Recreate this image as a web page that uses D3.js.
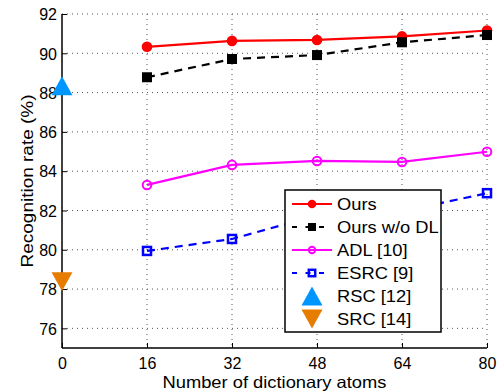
<!DOCTYPE html>
<html><head><meta charset="utf-8">
<script src="https://cdn.jsdelivr.net/npm/d3@7"></script>
<style>body{margin:0;background:#fff}svg{display:block}text{font-family:"Liberation Sans",Arial,sans-serif;fill:#000}</style>
</head><body><svg id="c" width="503" height="392"></svg>
<script>
const atoms = [16, 32, 48, 64, 80];
const ours = [90.33, 90.63, 90.68, 90.86, 91.16];
const oursNoDL = [88.78, 89.71, 89.91, 90.56, 90.93];
const adl = [83.3, 84.32, 84.52, 84.47, 84.99];
const esrc = [79.94, 80.55, 81.75, 81.95, 82.88];
const rsc = 88.35;
const src = 78.38;
const xTicks = [0, 16, 32, 48, 64, 80];
const yTicks = [76, 78, 80, 82, 84, 86, 88, 90, 92];
const legendLabels = ["Ours", "Ours w/o DL", "ADL [10]", "ESRC [9]", "RSC [12]", "SRC [14]"];

const svg = d3.select("#c");
const L = 62, R = 487, T = 14, B = 348;
const x = d3.scaleLinear().domain([0, 80]).range([L, R]);
const y = d3.scaleLinear().domain([75, 92]).range([B, T]);

function stretch(t, k) {
  const n = t.node();
  const w = n.getComputedTextLength();
  t.attr("textLength", w * k).attr("lengthAdjust", "spacingAndGlyphs");
}

// grid
const g = svg.append("g");
xTicks.filter(d => d > 0).forEach(d => g.append("line").attr("x1", x(d)).attr("x2", x(d)).attr("y1", T).attr("y2", B)
  .attr("stroke", "#555").attr("stroke-width", 1).attr("stroke-dasharray", "1,4"));
yTicks.forEach(d => g.append("line").attr("x1", L).attr("x2", R).attr("y1", y(d)).attr("y2", y(d))
  .attr("stroke", "#555").attr("stroke-width", 1).attr("stroke-dasharray", "1,4"));

// axes
const ax = svg.append("g").attr("transform", `translate(0,${B})`)
  .call(d3.axisBottom(x).tickValues(xTicks).tickSize(-5).tickPadding(10).tickFormat(d3.format("d")));
const ay = svg.append("g").attr("transform", `translate(${L},0)`)
  .call(d3.axisLeft(y).tickValues(yTicks).tickSize(-5).tickPadding(5).tickFormat(d3.format("d")));
[ax, ay].forEach(a => {
  a.select(".domain").attr("stroke", "#000").attr("stroke-width", 1.5);
  a.selectAll(".tick line").attr("stroke", "#000");
  a.selectAll(".tick text").attr("font-size", 16).attr("font-family", "Liberation Sans, Arial, sans-serif");
});
ax.select(".domain").attr("d", `M${L},0H${R}`);
ay.select(".domain").attr("d", `M0,${B}V${T}`);
ay.selectAll(".tick text").attr("dy", "0.36em");

const xl = svg.append("text").attr("x", x(40)).attr("y", 388).attr("text-anchor", "middle").attr("font-size", 16.5).text("Number of dictionary atoms");
stretch(xl, 1.11);
const yl = svg.append("text").attr("transform", `translate(33,181) rotate(-90)`).attr("text-anchor", "middle").attr("font-size", 16.5).text("Recognition rate (%)");
stretch(yl, 1.15);

const line = d3.line().x(d => x(d[0])).y(d => y(d[1]));
const series = [
  {v: ours, c: "#ff0000", dash: null, m: "circleF"},
  {v: oursNoDL, c: "#000000", dash: "8,6", m: "squareF"},
  {v: adl, c: "#ff00ff", dash: null, m: "circleO"},
  {v: esrc, c: "#0000ff", dash: "8,6", m: "squareO"}
];
function marker(sel, type, c, cx, cy, s) {
  if (type === "circleF") sel.append("circle").attr("cx", cx).attr("cy", cy).attr("r", 5.3*s).attr("fill", c);
  else if (type === "circleO") sel.append("circle").attr("cx", cx).attr("cy", cy).attr("r", 4.3*s).attr("fill", "none").attr("stroke", c).attr("stroke-width", 2);
  else if (type === "squareF") sel.append("rect").attr("x", cx - 5*s).attr("y", cy - 5*s).attr("width", 10*s).attr("height", 10*s).attr("fill", c);
  else if (type === "squareO") sel.append("rect").attr("x", cx - 4*s).attr("y", cy - 4*s).attr("width", 8*s).attr("height", 8*s).attr("fill", "none").attr("stroke", c).attr("stroke-width", 2.5);
}
series.forEach(s => {
  const pts = atoms.map((a, i) => [a, s.v[i]]);
  const p = svg.append("path").attr("d", line(pts)).attr("fill", "none").attr("stroke", s.c).attr("stroke-width", 2.2);
  if (s.dash) p.attr("stroke-dasharray", s.dash);
  pts.forEach(d => marker(svg, s.m, s.c, x(d[0]), y(d[1]), 1));
});
function tri(sel, cx, cy, up, c, w) {
  const h = w * 0.9;
  const pts = up ? [[cx - w/2, cy + h/2], [cx + w/2, cy + h/2], [cx, cy - h/2]] : [[cx - w/2, cy - h/2], [cx + w/2, cy - h/2], [cx, cy + h/2]];
  sel.append("path").attr("d", "M" + pts.join("L") + "Z").attr("fill", c);
}
tri(svg, x(0), y(rsc), true, "#0096ff", 21);
tri(svg, x(0), y(src), false, "#e67c00", 21);

// legend
const lg = svg.append("g");
lg.append("rect").attr("x", 285).attr("y", 190).attr("width", 156).attr("height", 142).attr("fill", "#fff").attr("stroke", "#000").attr("stroke-width", 1.5);
legendLabels.forEach((lab, i) => {
  const cy = 204 + i * 23;
  if (i < 4) {
    const s = series[i];
    const l = lg.append("line").attr("x1", 292).attr("x2", 332).attr("y1", cy).attr("y2", cy).attr("stroke", s.c).attr("stroke-width", 2.2);
    if (s.dash) l.attr("stroke-dasharray", "5,8.5");
    marker(lg, s.m, s.c, 312, cy, s.m === "circleO" ? 0.75 : (s.m === "squareO" ? 0.8 : 0.8));
  } else {
    tri(lg, 312, cy, i === 4, i === 4 ? "#0096ff" : "#e67c00", 21);
  }
  const t = lg.append("text").attr("x", 337).attr("y", cy).attr("dy", "0.36em").attr("font-size", 16.5).text(lab);
  stretch(t, 1.11);
});
</script></body></html>
